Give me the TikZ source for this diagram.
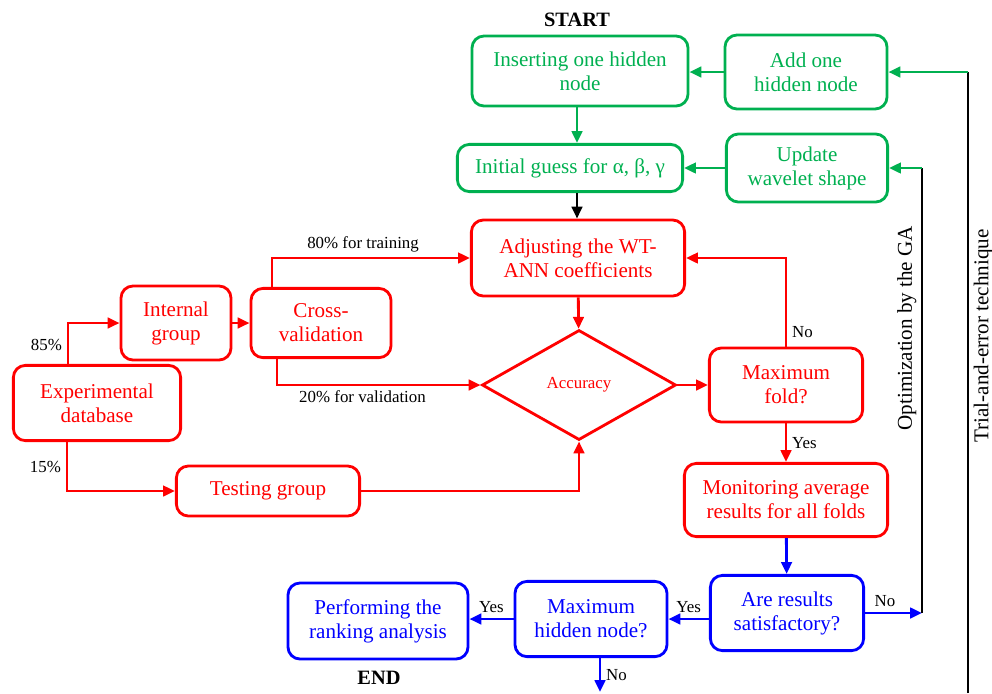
\documentclass[tikz,border=0pt]{standalone}
\usepackage{fontspec}
\setmainfont{Liberation Serif}
\usetikzlibrary{shapes.geometric, arrows.meta, positioning, calc}
\definecolor{flowgreen}{RGB}{0,176,80}
\definecolor{flowred}{RGB}{255,0,0}
\definecolor{flowblue}{RGB}{0,0,255}

\begin{document}
\begin{tikzpicture}[
                x=0.025cm, y=-0.025cm,
                box/.style={rectangle, rounded corners=0.3cm, line width=2pt, align=center, inner sep=2pt, font=\fontsize{15}{17}\selectfont},
                gbox/.style={box, draw=flowgreen, text=flowgreen},
                rbox/.style={box, draw=flowred, text=flowred},
                bbox/.style={box, draw=flowblue, text=flowblue},
                decision/.style={diamond, draw=flowred, text=flowred, line width=2pt, minimum width=4.85cm, minimum height=2.75cm, inner sep=0pt, font=\fontsize{12}{14}\selectfont},
                tip/.style={-{Triangle[length=8.5pt, width=7.5pt]}, line width=2pt},
                garrow/.style={tip, flowgreen},
                rarrow/.style={tip, flowred},
                barrow/.style={tip, flowblue},
                karrow/.style={tip, black},
                kline/.style={line width=2pt, black},
                lbl/.style={font=\fontsize{12}{14}\selectfont, text=black},
                side/.style={font=\fontsize{15}{17}\selectfont, text=black, inner sep=3pt},
                title/.style={font=\fontsize{14.5}{17}\selectfont\bfseries}
            ]
                \useasboundingbox (0,0) rectangle (992,693);

                \node[title] (start) at (577,20) {START};
                \node[gbox, minimum width=5.4cm, minimum height=1.75cm] (insert) at (580,71) {Inserting one hidden\\node};
                \node[gbox, minimum width=4.05cm, minimum height=1.85cm] (addnode) at (806,72) {Add one\\hidden node};
                \node[gbox, minimum width=5.63cm, minimum height=1.18cm] (guess) at (570,168) {Initial guess for α, β, γ};
                \node[gbox, minimum width=4.03cm, minimum height=1.7cm] (wavelet) at (807,168) {Update\\wavelet shape};
                \node[rbox, minimum width=5.33cm, minimum height=1.9cm] (adjust) at (578,258) {Adjusting the WT-\\ANN coefficients};
                \node[rbox, minimum width=2.75cm, minimum height=1.85cm] (internal) at (176,323) {Internal\\group};
                \node[rbox, minimum width=3.5cm, minimum height=1.73cm] (cross) at (321,323) {Cross-\\validation};
                \node[rbox, minimum width=4.18cm, minimum height=1.88cm] (expdb) at (97,403) {Experimental\\database};
                \node[decision] (accuracy) at (579,385) {Accuracy};
                \node[rbox, minimum width=3.83cm, minimum height=1.85cm] (maxfold) at (786,385) {Maximum\\fold?};
                \node[rbox, minimum width=4.58cm, minimum height=1.25cm] (testing) at (268,491) {Testing group};
                \node[rbox, minimum width=5.08cm, minimum height=1.83cm] (monitor) at (786,500) {Monitoring average\\results for all folds};
                \node[bbox, minimum width=3.83cm, minimum height=1.88cm] (satisfy) at (787,613) {Are results\\satisfactory?};
                \node[bbox, minimum width=3.8cm, minimum height=1.88cm] (maxhidden) at (591,619) {Maximum\\hidden node?};
                \node[bbox, minimum width=4.5cm, minimum height=1.9cm] (ranking) at (378,621) {Performing the\\ranking analysis};
                \node[title] (finish) at (379,678) {END};

                \coordinate (gaturn) at (922,613);
                \coordinate (tebottom) at (968,693);
                \coordinate (hiddenout) at (600,692);

                \draw[garrow] (addnode.west) -- (insert.east |- addnode.west);
                \draw[garrow] (insert.south -| 577,0) -- (guess.north -| 577,0);
                \draw[garrow] (wavelet) -- (guess);
                \draw[karrow] (guess.south -| 577,0) -- (adjust.north -| 577,0);
                \draw[rarrow] (adjust) -- (accuracy);

                \draw[rarrow] ($(expdb.north)+(-29,0)$) |- node[lbl, left, pos=0.23] {85\%} (internal.west);
                \draw[rarrow] ($(expdb.south)+(-30,0)$) |- node[lbl, left, pos=0.25] {15\%} (testing.west);
                \draw[rarrow] (internal) -- (cross);
                \draw[rarrow] ($(cross.north)+(-49,0)$) |- node[lbl, above, pos=0.73] {80\% for training} (adjust.west);
                \draw[rarrow] ($(cross.south)+(-44,0)$) |- node[lbl, below, pos=0.71] {20\% for validation} (accuracy.west);
                \draw[rarrow] (testing.east) -| (accuracy.south);
                \draw[rarrow] (accuracy) -- (maxfold);
                \draw[rarrow] (maxfold.north) |- node[lbl, right, pos=0.08] {No} (adjust.east);
                \draw[rarrow] (maxfold) -- node[lbl, right] {Yes} (monitor);

                \draw[barrow] (monitor) -- (satisfy);
                \draw[barrow] (satisfy.west |- maxhidden.east) -- node[lbl, above] {Yes} (maxhidden.east);
                \draw[barrow] (maxhidden.west) -- node[lbl, above] {Yes} (maxhidden.west -| ranking.east);
                \draw[barrow] (maxhidden.south -| hiddenout) -- node[lbl, right] {No} (hiddenout);
                \draw[barrow] (satisfy.east) -- node[lbl, above, pos=0.35] {No} (gaturn);

                \draw[kline] (gaturn) -- node[side, sloped, above, pos=0.64] {Optimization by the GA} (gaturn |- wavelet.east);
                \draw[garrow] (gaturn |- wavelet.east) -- (wavelet.east);
                \draw[kline] (tebottom) -- node[side, sloped, below, pos=0.575] {Trial-and-error technique} (tebottom |- addnode.east);
                \draw[garrow] (tebottom |- addnode.east) -- (addnode.east);
            \end{tikzpicture}
\end{document}
